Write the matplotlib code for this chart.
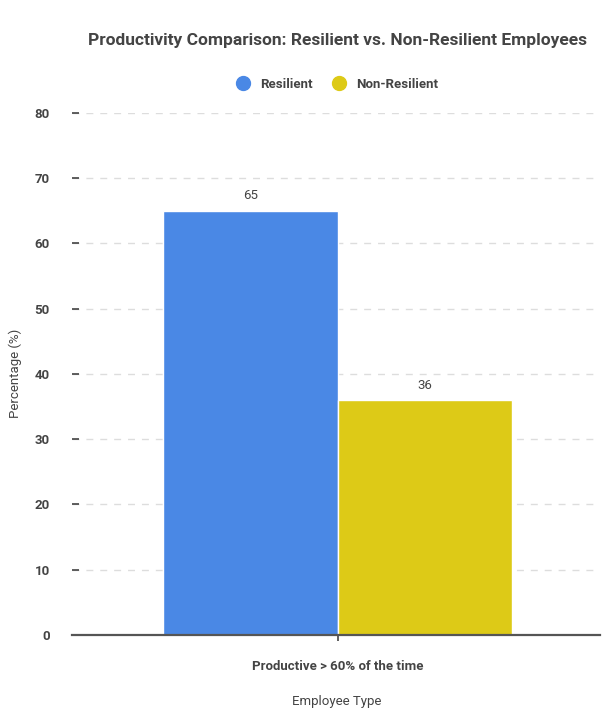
import matplotlib
matplotlib.use("Agg")
import matplotlib.pyplot as plt
from matplotlib.lines import Line2D

categories = ["Productive > 60% of the time"]
series_names = ["Resilient", "Non-Resilient"]
resilient = [65]
non_resilient = [36]
yticks = [0, 10, 20, 30, 40, 50, 60, 70, 80]
colors = ["#4A88E5", "#DDCA17"]

plt.rcParams['font.family'] = ['Roboto', 'DejaVu Sans']
W, H = 612, 714
fig = plt.figure(figsize=(W/100, H/100), dpi=100)
ax = fig.add_axes([72/W, 1-635/H, 528/W, (635-112.7)/H])

bw = 0.33
x0 = 0.003
for i, (vals, col) in enumerate(zip([resilient, non_resilient], colors)):
    off = (i - 0.5) * bw
    bars = ax.bar([x0 + off], vals, width=bw, color=col, edgecolor="white", linewidth=1, zorder=3)
    for b, v in zip(bars, vals):
        ax.annotate(str(v), (b.get_x() + b.get_width()/2, v), xytext=(0, 6),
                    textcoords="offset points", ha="center", va="bottom",
                    fontsize=9.5, color="#444444")

ax.set_xlim(-0.5, 0.5)
ax.set_ylim(0, 80)
ax.set_yticks(yticks)
ax.set_yticklabels([str(t) for t in yticks], fontweight="bold", fontsize=9.5, color="#444444")
ax.set_xticks([0.003])
ax.set_xticklabels(categories, fontweight="bold", fontsize=9.5, color="#444444")
ax.tick_params(axis="y", direction="in", length=5, width=1.2, color="#444444", pad=16)
ax.tick_params(axis="x", direction="out", length=4, width=1.2, color="#444444", pad=14)
for s in ["top", "right", "left"]:
    ax.spines[s].set_visible(False)
ax.spines["bottom"].set_color("#555555")
ax.spines["bottom"].set_linewidth(1.6)
ax.spines["bottom"].set_zorder(4)
ax.grid(axis="y", color="#DDDDDD", linestyle=(0, (5, 5)), linewidth=1, zorder=0)
ax.set_axisbelow(True)

ax.set_ylabel("Percentage (%)", fontsize=9.5, color="#444444")
ax.set_xlabel("Employee Type", fontsize=9.5, color="#444444")
ax.yaxis.set_label_coords((15 - 72) / 528, (635 - 373) / (635 - 112.7))
ax.xaxis.set_label_coords((337 - 72) / 528, -(701 - 635) / (635 - 112.7))
ax.yaxis.label.set_va("center")
ax.xaxis.label.set_va("center")

fig.text(338/W, 1-41/H, "Productivity Comparison: Resilient vs. Non-Resilient Employees",
         ha="center", va="center", fontsize=12.5, fontweight="bold", color="#444444")

handles = [Line2D([0], [0], marker="o", linestyle="", markersize=10,
                  markerfacecolor=c, markeredgecolor=c) for c in colors]
fig.legend(handles, series_names, loc="center", bbox_to_anchor=(334/W, 1-84/H),
           ncol=2, frameon=False, prop={"weight": "bold", "size": 9.5},
           labelcolor="#444444", handletextpad=0.3, columnspacing=1.0)

fig.savefig("out.png", dpi=100)
